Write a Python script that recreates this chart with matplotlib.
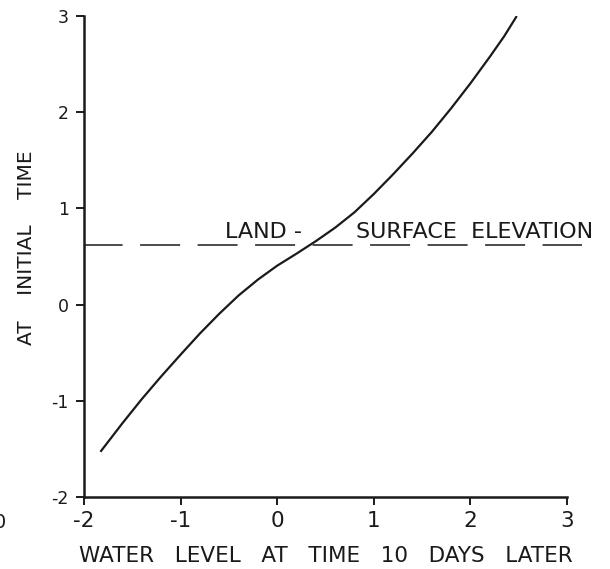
import matplotlib
matplotlib.use("Agg")
import matplotlib.pyplot as plt

# ── Data ─────────────────────────────────────────────────────────────────────
level_later = [-1.83, -1.60, -1.40, -1.20, -1.00, -0.80, -0.60, -0.40, -0.20,
               0.00, 0.20, 0.40, 0.60, 0.80, 1.00, 1.20, 1.40, 1.60, 1.80,
               2.00, 2.20, 2.35, 2.48]
level_initial = [-1.53, -1.23, -0.98, -0.745, -0.52, -0.30, -0.095, 0.095,
                 0.26, 0.405, 0.53, 0.66, 0.80, 0.96, 1.15, 1.355, 1.57,
                 1.795, 2.04, 2.30, 2.575, 2.79, 3.00]

land_surface = 0.62
land_x = [-2.0, 3.155]

x_ticks = [-2, -1, 0, 1, 2, 3]
y_ticks = [-2, -1, 0, 1, 2, 3]
# ─────────────────────────────────────────────────────────────────────────────

plt.rcParams["font.family"] = "DejaVu Sans"
plt.rcParams["lines.scale_dashes"] = False
INK = "#1a1a1a"

fig = plt.figure(figsize=(6.1, 5.69), dpi=100)
ax = fig.add_axes([0.1377, 0.1265, 0.7918, 0.8453])

ax.plot(level_later, level_initial, color=INK, lw=1.6,
        solid_capstyle="butt", solid_joinstyle="round")
ax.plot(land_x, [land_surface, land_surface], color=INK, lw=1.1,
        linestyle=(1.0, (28.8, 12.6)), clip_on=False)

ax.text(-0.54, 0.69, "LAND -", fontsize=16, color=INK,
        ha="left", va="baseline")
ax.text(0.82, 0.69, "SURFACE  ELEVATION", fontsize=16,
        color=INK, ha="left", va="baseline")

ax.set_xlim(-2, 3)
ax.set_ylim(-2, 3)
ax.set_xticks(x_ticks)
ax.set_yticks(y_ticks)
ax.set_xticklabels([str(t) for t in x_ticks], fontsize=15.5, color=INK)
ax.set_yticklabels([str(t) for t in y_ticks], fontsize=12.5, color=INK)
ax.tick_params(axis="both", direction="out", length=6, width=1.4, colors=INK)
ax.tick_params(axis="x", pad=4)
ax.tick_params(axis="y", pad=5)

for side in ("top", "right"):
    ax.spines[side].set_visible(False)
for side in ("left", "bottom"):
    ax.spines[side].set_linewidth(1.8)
    ax.spines[side].set_color(INK)

ax.set_xlabel("WATER   LEVEL   AT   TIME   10   DAYS   LATER", fontsize=15.5,
              color=INK, labelpad=11)
ax.set_ylabel("AT    INITIAL    TIME", fontsize=14.5, color=INK)
ax.yaxis.set_label_coords(-0.1, 0.519)

# partial mark at the page edge
fig.text(0.0, 1 - 522 / 569, "0", fontsize=14, color=INK, ha="center",
         va="center")

fig.savefig("out.png", dpi=100, facecolor="white")
